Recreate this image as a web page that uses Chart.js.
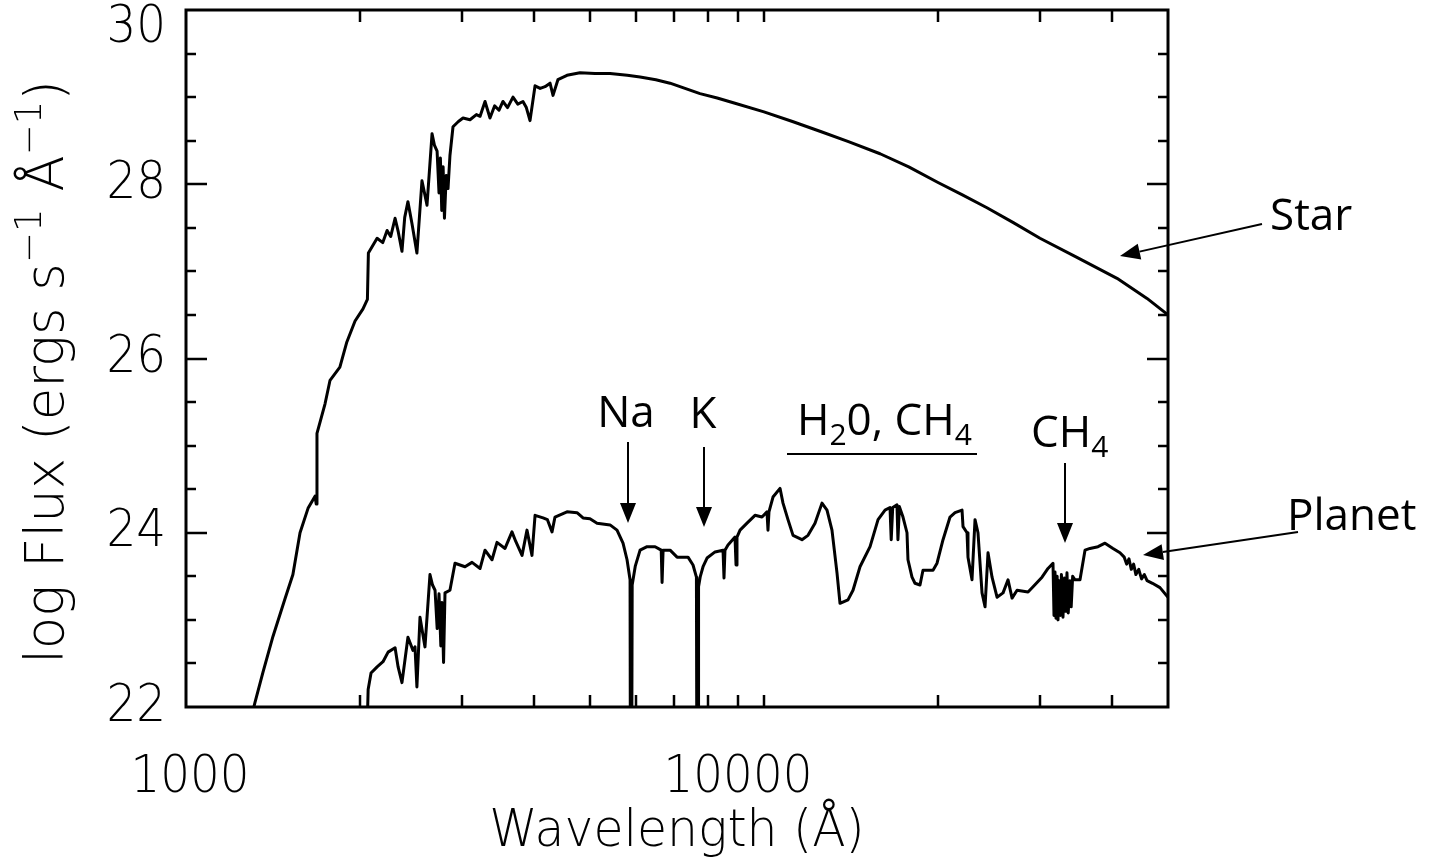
<!DOCTYPE html>
<html>
<head>
<meta charset="utf-8">
<script src="https://cdn.jsdelivr.net/npm/chart.js@4"></script>
<style>
  body { margin: 0; background: #fff; }
  canvas { display: block; }
</style>
</head>
<body>
<canvas id="spectrum" width="1447" height="861"></canvas>
<script>
// wavelength in Angstrom, flux as log10(ergs s^-1 A^-1)
const starWave = [1250, 1316, 1359, 1414, 1483, 1531, 1575, 1626, 1672, 1680, 1685, 1740, 1775, 1846, 1898, 1961,
  2024, 2060, 2068, 2141, 2190, 2228, 2260, 2300, 2330, 2364, 2390, 2421, 2460, 2509, 2560, 2612, 2665, 2690,
  2719, 2740, 2755, 2770, 2785, 2800, 2820, 2840, 2862, 2897, 2960, 3015, 3100, 3180, 3227, 3291, 3357, 3420,
  3480, 3535, 3600, 3679, 3750, 3828, 3880, 3937, 4017, 4100, 4180, 4264, 4315, 4400, 4562, 4804, 5100, 5416,
  5800, 6104, 6500, 6877, 7300, 7750, 8300, 8909, 10000, 11200, 12599, 14000, 15879, 17800, 20000, 22000,
  24308, 27000, 30024, 34784, 40809, 45990, 50000];
const starFlux = [21.45, 22.05, 22.40, 22.81, 23.24, 23.52, 24.00, 24.28, 24.42, 24.33, 25.14, 25.48, 25.75, 25.90, 26.19, 26.43,
  26.57, 26.68, 27.21, 27.38, 27.33, 27.47, 27.40, 27.61, 27.45, 27.23, 27.62, 27.80, 27.55, 27.21, 28.04, 27.76, 28.58, 28.45,
  28.38, 27.90, 28.30, 27.70, 28.20, 27.61, 28.10, 27.95, 28.33, 28.66, 28.72, 28.76, 28.74, 28.80, 28.78, 28.95, 28.76, 28.90,
  28.85, 28.95, 28.88, 29.00, 28.92, 28.95, 28.88, 28.73, 29.13, 29.10, 29.12, 29.16, 29.02, 29.20, 29.25, 29.28, 29.27, 29.27,
  29.25, 29.23, 29.20, 29.16, 29.10, 29.04, 28.99, 28.93, 28.83, 28.72, 28.60, 28.49, 28.35, 28.20, 28.02, 27.88,
  27.73, 27.56, 27.38, 27.16, 26.92, 26.69, 26.50];

const planetWave = [2055, 2066, 2090, 2141, 2192, 2237, 2300, 2328, 2364, 2421, 2470, 2490, 2509, 2540, 2591, 2643, 2670,
  2697, 2720, 2740, 2760, 2773, 2790, 2806, 2862, 2920, 3039, 3125, 3227, 3291, 3384, 3452, 3564, 3664, 3720, 3814,
  3890, 3968, 4017, 4147, 4220, 4298, 4349, 4562, 4748, 4863, 5000, 5142, 5416, 5568, 5703, 5795, 5865, 5872, 5905,
  5915, 5990, 6104, 6277, 6480, 6640, 6663, 6690, 6879, 7073, 7388, 7537, 7640, 7652, 7690, 7705, 7760, 7844, 7970,
  8228, 8494, 8527, 8560, 8664, 8909, 8946, 8980, 9090, 9346, 9648, 9920, 10120, 10160, 10200, 10365, 10659, 10787,
  11003, 11226, 11634, 11916, 12253, 12599, 12853, 13110, 13375, 13536, 13973, 14256, 14659, 15258, 15751, 16196,
  16520, 16600, 16700, 16985, 17050, 17150, 17397, 17677, 17746, 18033, 18248, 18616, 18840, 19608, 19923, 20405,
  20982, 21404, 22010, 22097, 22451, 22539, 22903, 23179, 23455, 23835, 24122, 24410, 24805, 25304, 25917, 26437,
  26864, 27404, 28629, 29208, 30269, 30999, 31623, 31750, 31876, 32000, 32150, 32260, 32400, 32550, 32700, 32906,
  33100, 33250, 33435, 33600, 33837, 34000, 34200, 34517, 35214, 35924, 36645, 37838, 38905, 40160, 41295, 42000,
  42400, 42800, 43200, 43600, 44000, 44500, 45000, 45500, 46000, 47000, 48430, 50000];
const planetFlux = [21.60, 22.20, 22.39, 22.46, 22.52, 22.63, 22.68, 22.46, 22.28, 22.80, 22.65, 22.69, 22.23, 23.03, 22.69, 23.52, 23.40,
  23.34, 22.90, 23.30, 22.70, 23.20, 22.51, 23.31, 23.34, 23.65, 23.61, 23.66, 23.59, 23.80, 23.69, 23.89, 23.82, 24.01, 23.90, 23.74,
  24.03, 23.74, 24.20, 24.17, 24.15, 24.01, 24.18, 24.24, 24.23, 24.17, 24.16, 24.11, 24.09, 24.03, 23.88, 23.69, 23.46, 21.50, 21.50,
  23.40, 23.62, 23.80, 23.84, 23.84, 23.80, 23.43, 23.80, 23.80, 23.72, 23.72, 23.63, 23.49, 21.50, 21.50, 23.38, 23.50, 23.61, 23.71,
  23.78, 23.80, 23.48, 23.80, 23.86, 23.95, 23.63, 23.95, 24.03, 24.11, 24.20, 24.18, 24.24, 24.03, 24.24, 24.41, 24.51, 24.34,
  24.15, 23.97, 23.92, 23.97, 24.11, 24.34, 24.26, 24.03, 23.54, 23.19, 23.23, 23.34, 23.61, 23.84, 24.15, 24.26,
  24.29, 23.92, 24.29, 24.32, 23.92, 24.30, 24.18, 24.00, 23.69, 23.49, 23.42, 23.40, 23.57, 23.57, 23.65, 23.92,
  24.18, 24.23, 24.26, 24.07, 24.00, 23.72, 23.46, 24.15, 24.00, 23.31, 23.15, 23.77, 23.49, 23.26, 23.31, 23.46,
  23.25, 23.34, 23.32, 23.38, 23.49, 23.59, 23.65, 23.05, 23.55, 23.02, 23.50, 23.00, 23.45, 23.05, 23.52, 23.03,
  23.48, 23.10, 23.54, 23.08, 23.45, 23.15, 23.50, 23.46, 23.46, 23.80, 23.82, 23.84, 23.88, 23.82, 23.77, 23.72,
  23.64, 23.70, 23.58, 23.64, 23.52, 23.58, 23.47, 23.52, 23.45, 23.42, 23.37, 23.26];

const xTicks = [2000, 3000, 4000, 5000, 6000, 7000, 8000, 9000, 10000, 20000, 30000, 40000];
const xLabelValues = [1000, 10000];
const xLabelText = ['1000', '10000'];
const xLabelNudge = [4, -26];
const yLabelValues = [30, 28, 26, 24, 22];

const tickFont = '200 52px "DejaVu Sans"';
const titleFont = '200 53px "DejaVu Sans"';
const noteFont = '44px "Open Sans"';
const noteSub = '30px "Open Sans"';

function toPoints(xs, ys) {
  return xs.map((w, i) => ({ x: w, y: ys[i] }));
}

function narrowText(ctx, str, px, py, align, font, sx) {
  ctx.save();
  ctx.font = font;
  ctx.translate(px, py);
  ctx.scale(sx, 1);
  ctx.textAlign = align;
  ctx.fillText(str, 0, 0);
  ctx.restore();
}

function arrow(ctx, x1, y1, x2, y2) {
  const ang = Math.atan2(y2 - y1, x2 - x1);
  const len = 20, half = 8;
  const bx = x2 - len * Math.cos(ang), by = y2 - len * Math.sin(ang);
  ctx.beginPath();
  ctx.moveTo(x1, y1);
  ctx.lineTo(bx, by);
  ctx.stroke();
  ctx.beginPath();
  ctx.moveTo(x2, y2);
  ctx.lineTo(bx + half * Math.sin(ang), by - half * Math.cos(ang));
  ctx.lineTo(bx - half * Math.sin(ang), by + half * Math.cos(ang));
  ctx.closePath();
  ctx.fill();
}

// text pieces drawn left to right; sub pieces sit lower
function richText(ctx, pieces, px, py) {
  let cx = px;
  pieces.forEach(p => {
    ctx.font = p.sub ? noteSub : noteFont;
    ctx.fillText(p.t, cx, py + (p.sub ? 10 : 0));
    cx += ctx.measureText(p.t).width;
  });
}

const frame = {
  id: 'frame',
  afterDatasetsDraw(chart) {
    const { ctx, chartArea: a, scales: { x, y } } = chart;
    ctx.save();
    ctx.strokeStyle = '#000';
    ctx.fillStyle = '#000';
    ctx.lineWidth = 3;
    ctx.strokeRect(a.left, a.top, a.right - a.left, a.bottom - a.top);

    ctx.lineWidth = 2.5;
    ctx.beginPath();
    xTicks.forEach(v => {
      const px = Math.round(x.getPixelForValue(v));
      ctx.moveTo(px, a.bottom); ctx.lineTo(px, a.bottom - 12);
      ctx.moveTo(px, a.top); ctx.lineTo(px, a.top + 12);
    });
    for (let v = 22.5; v < 30; v += 0.5) {
      const py = Math.round(y.getPixelForValue(v));
      const len = (v % 2 === 0) ? 21 : 10;
      ctx.moveTo(a.left, py); ctx.lineTo(a.left + len, py);
      ctx.moveTo(a.right, py); ctx.lineTo(a.right - len, py);
    }
    ctx.stroke();

    // tick labels
    ctx.textBaseline = 'middle';
    yLabelValues.forEach(v => {
      const py = Math.max(y.getPixelForValue(v), 28);
      narrowText(ctx, String(v), 166, py, 'right', tickFont, 0.9);
    });
    ctx.textBaseline = 'alphabetic';
    xLabelValues.forEach((v, i) => {
      narrowText(ctx, xLabelText[i], x.getPixelForValue(v) + xLabelNudge[i], 792, 'center', tickFont, 0.9);
    });

    // axis titles
    narrowText(ctx, 'Wavelength (Å)', (a.left + a.right) / 2, 846, 'center', tickFont, 0.94);

    ctx.save();
    ctx.translate(63, 372);
    ctx.rotate(-Math.PI / 2);
    const parts = [
      { t: 'log Flux (ergs s', sup: false },
      { t: '−1', sup: true },
      { t: ' Å', sup: false },
      { t: '−1', sup: true },
      { t: ')', sup: false }
    ];
    const supFont = '200 37px "DejaVu Sans"';
    let total = 0;
    parts.forEach(p => { ctx.font = p.sup ? supFont : titleFont; total += ctx.measureText(p.t).width; });
    let cx = -total / 2;
    parts.forEach(p => {
      ctx.font = p.sup ? supFont : titleFont;
      ctx.fillText(p.t, cx, p.sup ? -22 : 0);
      cx += ctx.measureText(p.t).width;
    });
    ctx.restore();

    // feature callouts
    ctx.lineWidth = 2;
    ctx.font = noteFont;
    ctx.textAlign = 'center';
    ctx.fillText('Na', 626, 427);
    ctx.fillText('K', 703, 428);
    ctx.textAlign = 'left';
    richText(ctx, [{ t: 'H' }, { t: '2', sub: true }, { t: '0, CH' }, { t: '4', sub: true }], 797, 435);
    richText(ctx, [{ t: 'CH' }, { t: '4', sub: true }], 1031, 447);
    ctx.font = noteFont;
    ctx.fillText('Star', 1270, 230);
    ctx.fillText('Planet', 1287, 530);

    ctx.beginPath();
    ctx.moveTo(787, 454); ctx.lineTo(977, 454);
    ctx.stroke();

    arrow(ctx, 628, 442, 628, 523);
    arrow(ctx, 704, 447, 704, 527);
    arrow(ctx, 1065, 463, 1065, 543);
    arrow(ctx, 1262, 224, 1120, 256);
    arrow(ctx, 1298, 532, 1143, 555);
    ctx.restore();
  }
};

const line = { borderColor: '#000', borderWidth: 3, pointRadius: 0, tension: 0, borderJoinStyle: 'round', clip: 0 };

new Chart(document.getElementById('spectrum'), {
  type: 'line',
  data: {
    datasets: [
      Object.assign({ label: 'Star', data: toPoints(starWave, starFlux) }, line),
      Object.assign({ label: 'Planet', data: toPoints(planetWave, planetFlux) }, line)
    ]
  },
  options: {
    responsive: false,
    animation: false,
    events: [],
    parsing: false,
    layout: { padding: { left: 186, top: 10, right: 279, bottom: 154 } },
    scales: {
      x: { type: 'logarithmic', min: 1000, max: 50000, display: false },
      y: { type: 'linear', min: 22, max: 30, display: false }
    },
    plugins: { legend: { display: false }, tooltip: { enabled: false } }
  },
  plugins: [frame]
});
</script>
</body>
</html>
